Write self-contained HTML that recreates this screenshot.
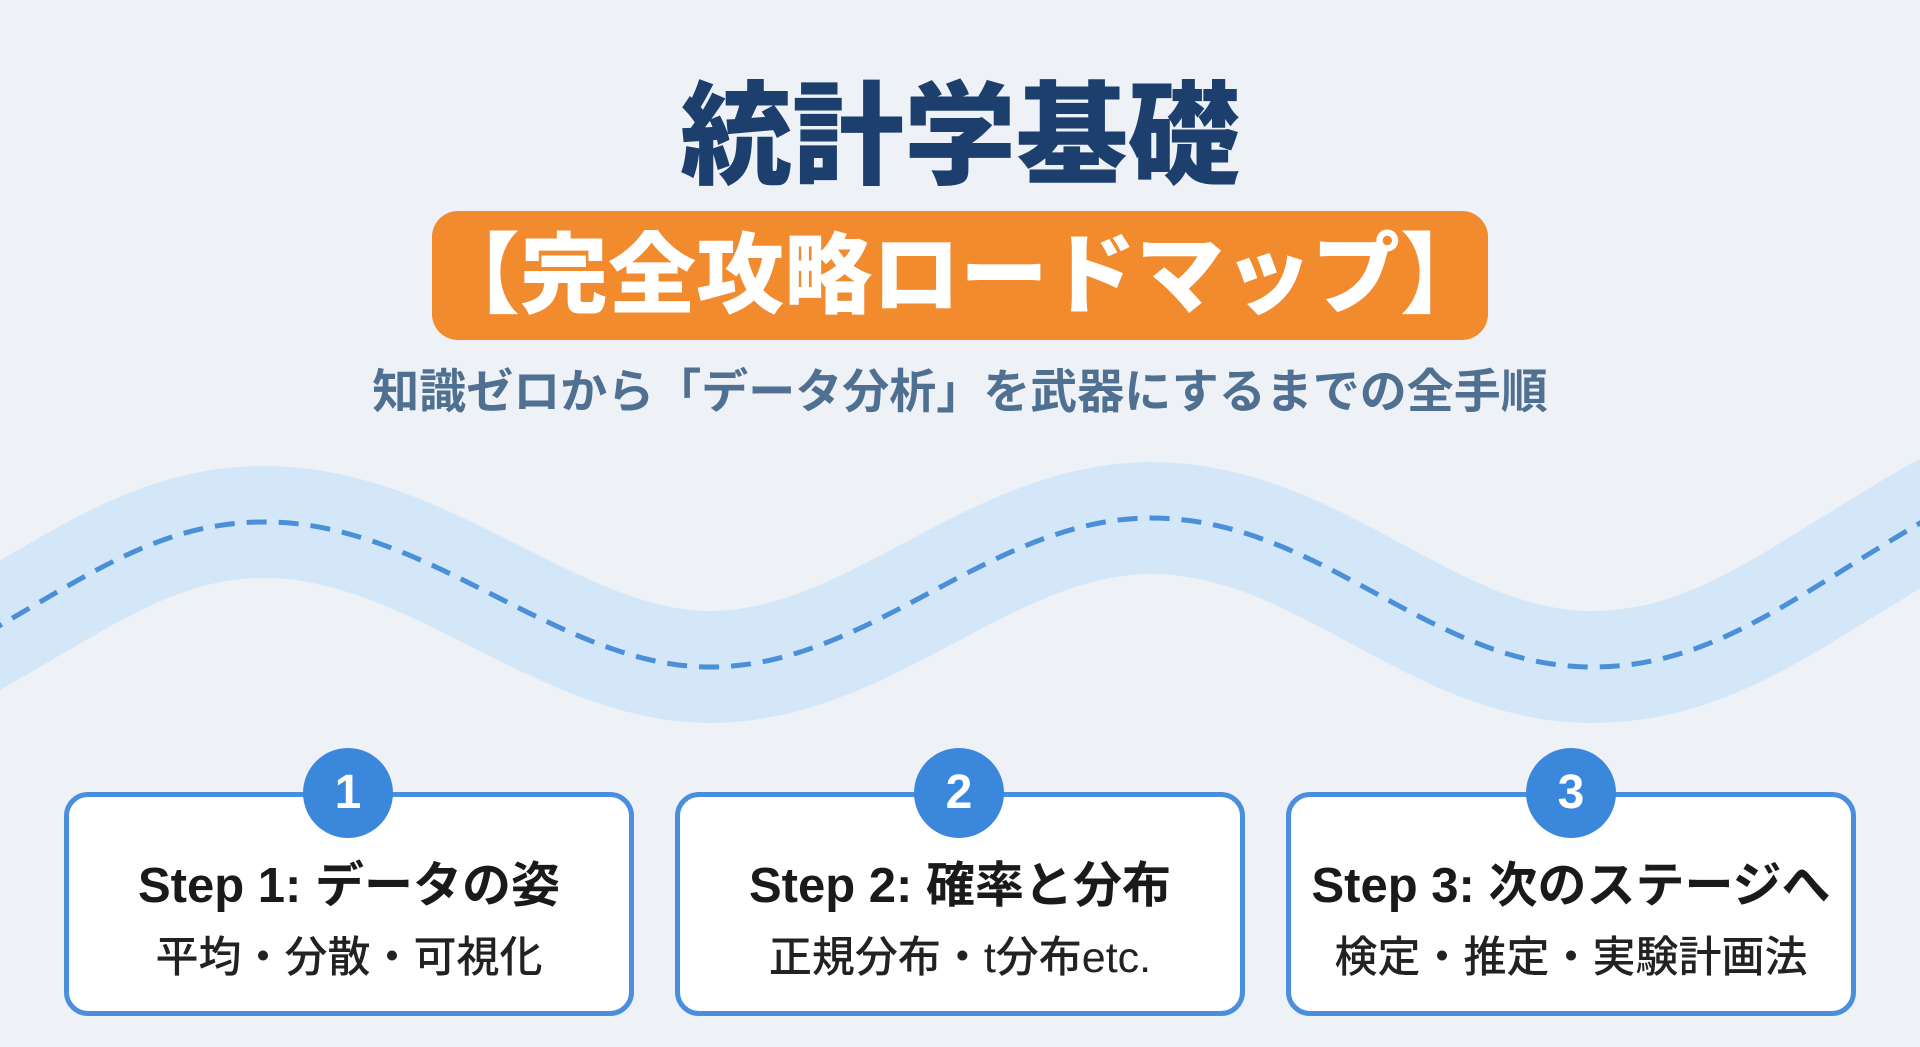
<!DOCTYPE html>
<html><head><meta charset="utf-8"><style>
html,body{margin:0;padding:0}
body{width:1920px;height:1047px;overflow:hidden;background:#eef2f7;position:relative;font-family:"Liberation Sans","Noto Sans CJK JP",sans-serif}
.t{position:absolute;left:0;width:1920px;text-align:center;white-space:nowrap}
#title{top:72px;font-size:112px;font-weight:900;color:#1c3f6e;line-height:130px}
#ob{position:absolute;left:432px;top:211px;width:1056px;height:129px;background:#f28a2e;border-radius:26px}
#obt{top:211px;font-size:88px;font-weight:900;color:#fff;line-height:129px}
#sub{top:366px;font-size:47px;font-weight:700;color:#4f7090;line-height:52px}
.card{position:absolute;top:792px;width:570px;height:224px;background:#fff;border:5px solid #4a8fdd;border-radius:24px;box-sizing:border-box}
.circ{position:absolute;top:748px;width:90px;height:90px;border-radius:50%;background:#3a87dc;color:#fff;font-size:48px;font-weight:700;text-align:center;line-height:90px}
.h{position:absolute;top:846px;width:570px;text-align:center;font-size:49px;font-weight:700;color:#1a1a1a;white-space:nowrap}
.s{position:absolute;top:923px;width:570px;text-align:center;font-size:43px;font-weight:500;color:#222;white-space:nowrap}
</style></head><body>
<svg width="1920" height="1047" style="position:absolute;left:0;top:0">
<path d="M-100,680 C60,600 140,520 269,522 C430,524 560,667 710,667 C870,667 990,518 1151,518 C1320,518 1430,667 1592,667 C1740,667 1830,560 2020,470" fill="none" stroke="#d3e7f8" stroke-width="112"/>
<path d="M-100,680 C60,600 140,520 269,522 C430,524 560,667 710,667 C870,667 990,518 1151,518 C1320,518 1430,667 1592,667 C1740,667 1830,560 2020,470" fill="none" stroke="#4a8fd8" stroke-width="5" stroke-dasharray="20 12"/>
</svg>
<div class="t" id="title">統計学基礎</div>
<div id="ob"></div>
<div class="t" id="obt">【完全攻略ロードマップ】</div>
<div class="t" id="sub">知識ゼロから「データ分析」を武器にするまでの全手順</div>

<div class="card" style="left:64px"></div>
<div class="card" style="left:675px"></div>
<div class="card" style="left:1286px"></div>
<div class="circ" style="left:303px">1</div>
<div class="circ" style="left:914px">2</div>
<div class="circ" style="left:1526px">3</div>
<div class="h" style="left:64px">Step 1: データの姿</div>
<div class="h" style="left:675px">Step 2: 確率と分布</div>
<div class="h" style="left:1286px">Step 3: 次のステージへ</div>
<div class="s" style="left:64px">平均・分散・可視化</div>
<div class="s" style="left:675px">正規分布・t分布etc.</div>
<div class="s" style="left:1286px">検定・推定・実験計画法</div>
</body></html>
